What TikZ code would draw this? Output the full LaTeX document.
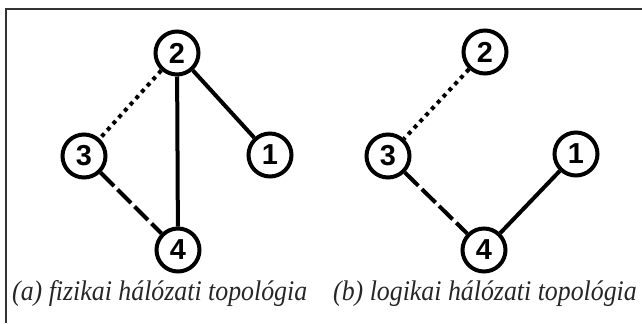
\documentclass[tikz,border=0pt]{standalone}
\usepackage{fontspec}
\setmainfont{Liberation Serif}
\newfontfamily\digitfont{Liberation Sans}
\newcommand{\narrowtext}[1]{\scalebox{0.91}[1]{#1}}
\begin{document}
\begin{tikzpicture}[x=1bp,y=-1bp,
  vertex/.style={circle,draw=black,line width=4bp,minimum size=43bp,inner sep=0pt,
    font=\digitfont\bfseries\fontsize{29}{29}\selectfont},
  link/.style={line width=4bp,black},
  dotlink/.style={line width=4bp,black,dash pattern=on 4bp off 4.5bp},
  dashlink/.style={line width=4bp,black,dash pattern=on 19bp off 5bp},
  caption/.style={anchor=base west,inner sep=0pt,
    font=\itshape\fontsize{28.5}{32}\selectfont,text=black!85}]
\useasboundingbox (0,0) rectangle (642,323);
% frame on the top and left edges
\draw[line width=2bp,black!80] (6,323) -- (6,9) -- (642,9);

% (a) physical topology
\node[vertex] (a2) at (177,53) {2};
\node[vertex] (a3) at (84,156) {3};
\node[vertex] (a1) at (270,155) {1};
\node[vertex] (a4) at (178,250) {4};
\draw[link] (a2) -- (a1);
\draw[link] (a2) -- (a4);
\draw[dotlink] (a2) -- (a3);
\draw[dashlink] (a3) -- (a4);
\node[caption] (capa) at (12,300) {\narrowtext{(a) fizikai hálózati topológia}};

% (b) logical topology
\node[vertex] (b2) at (485,52) {2};
\node[vertex] (b3) at (388,156) {3};
\node[vertex] (b1) at (576,154) {1};
\node[vertex] (b4) at (484,250) {4};
\draw[dotlink] (b2) -- (b3);
\draw[dashlink] (b3) -- (b4);
\draw[link] (b4) -- (b1);
\node[caption] (capb) at (333,300) {\narrowtext{(b) logikai hálózati topológia}};
\end{tikzpicture}
\end{document}
